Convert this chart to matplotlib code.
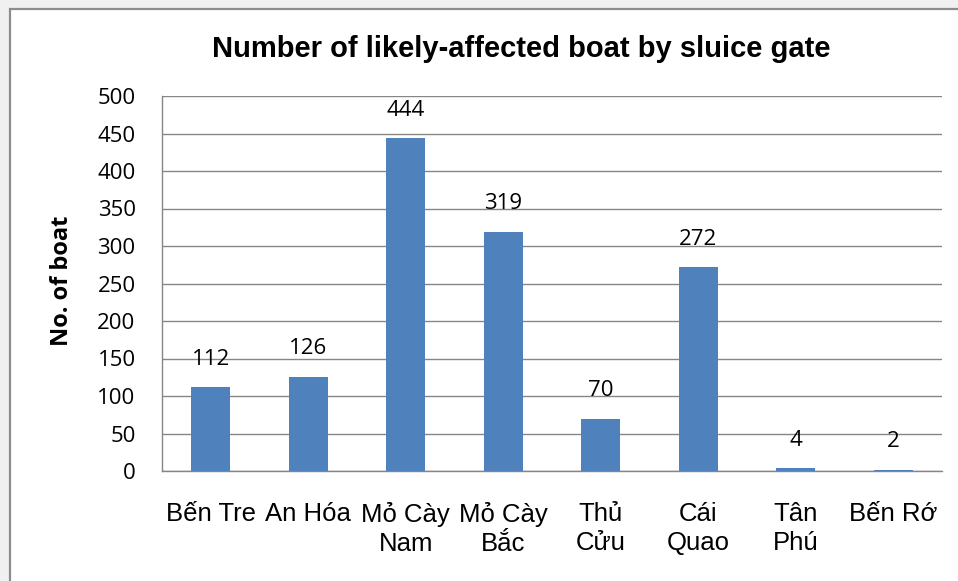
import matplotlib
matplotlib.use("Agg")
import matplotlib.pyplot as plt
from matplotlib.patches import Rectangle

categories = ["Bến Tre", "An Hóa", "Mỏ Cày\nNam", "Mỏ Cày\nBắc", "Thủ\nCửu", "Cái\nQuao", "Tân\nPhú", "Bến Rớ"]
values = [112, 126, 444, 319, 70, 272, 4, 2]
yticks = [0, 50, 100, 150, 200, 250, 300, 350, 400, 450, 500]
title = "Number of likely-affected boat by sluice gate"
ylabel = "No. of boat"

num_font = "Open Sans"
cat_font = "Liberation Sans"

W, H, DPI = 958, 581, 100
fig = plt.figure(figsize=(W / DPI, H / DPI), dpi=DPI, facecolor="#F0F0F0")

# chart frame
fig.patches.append(Rectangle((9.5 / W, -0.1), 1.2, 1 - 8.5 / H + 0.1, transform=fig.transFigure,
                             facecolor="white", edgecolor="#8C8C8C", linewidth=1.6, zorder=-5))

ax = fig.add_axes([162 / W, 1 - 471 / H, (942 - 162) / W, (471 - 96) / H])
ax.set_zorder(2)
ax.set_facecolor("white")
x = range(len(categories))
bars = ax.bar(x, values, width=0.4, color="#4F81BD", zorder=3)
ax.set_xlim(-0.5, len(categories) - 0.5)
ax.set_ylim(0, 500)
ax.set_yticks(yticks)
ax.set_yticklabels([str(t) for t in yticks], fontsize=16, family=num_font)
ax.set_xticks(list(x))
ax.set_xticklabels(categories, fontsize=18.5, family=cat_font, linespacing=1.3, va="top")
ax.tick_params(axis="both", length=0)
ax.tick_params(axis="y", pad=19)
ax.tick_params(axis="x", pad=22)
ax.grid(axis="y", color="#868686", linewidth=1.0, zorder=0)
for s in ["top", "right"]:
    ax.spines[s].set_visible(False)
for s in ["left", "bottom"]:
    ax.spines[s].set_color("#868686")
    ax.spines[s].set_linewidth(1.0)

for xi, v in zip(x, values):
    ax.annotate(str(v), (xi, v), xytext=(0, 20), textcoords="offset points",
                ha="center", va="center", fontsize=16, family=num_font)

fig.text(521 / W, 1 - 49 / H, title, ha="center", va="center", fontsize=21,
         fontweight="bold", family="Liberation Sans")
fig.text(62 / W, 1 - 281 / H, ylabel, ha="center", va="center", rotation=90,
         fontsize=17, fontweight="bold", family="Open Sans")

fig.savefig("out.png", dpi=DPI, facecolor=fig.get_facecolor())
